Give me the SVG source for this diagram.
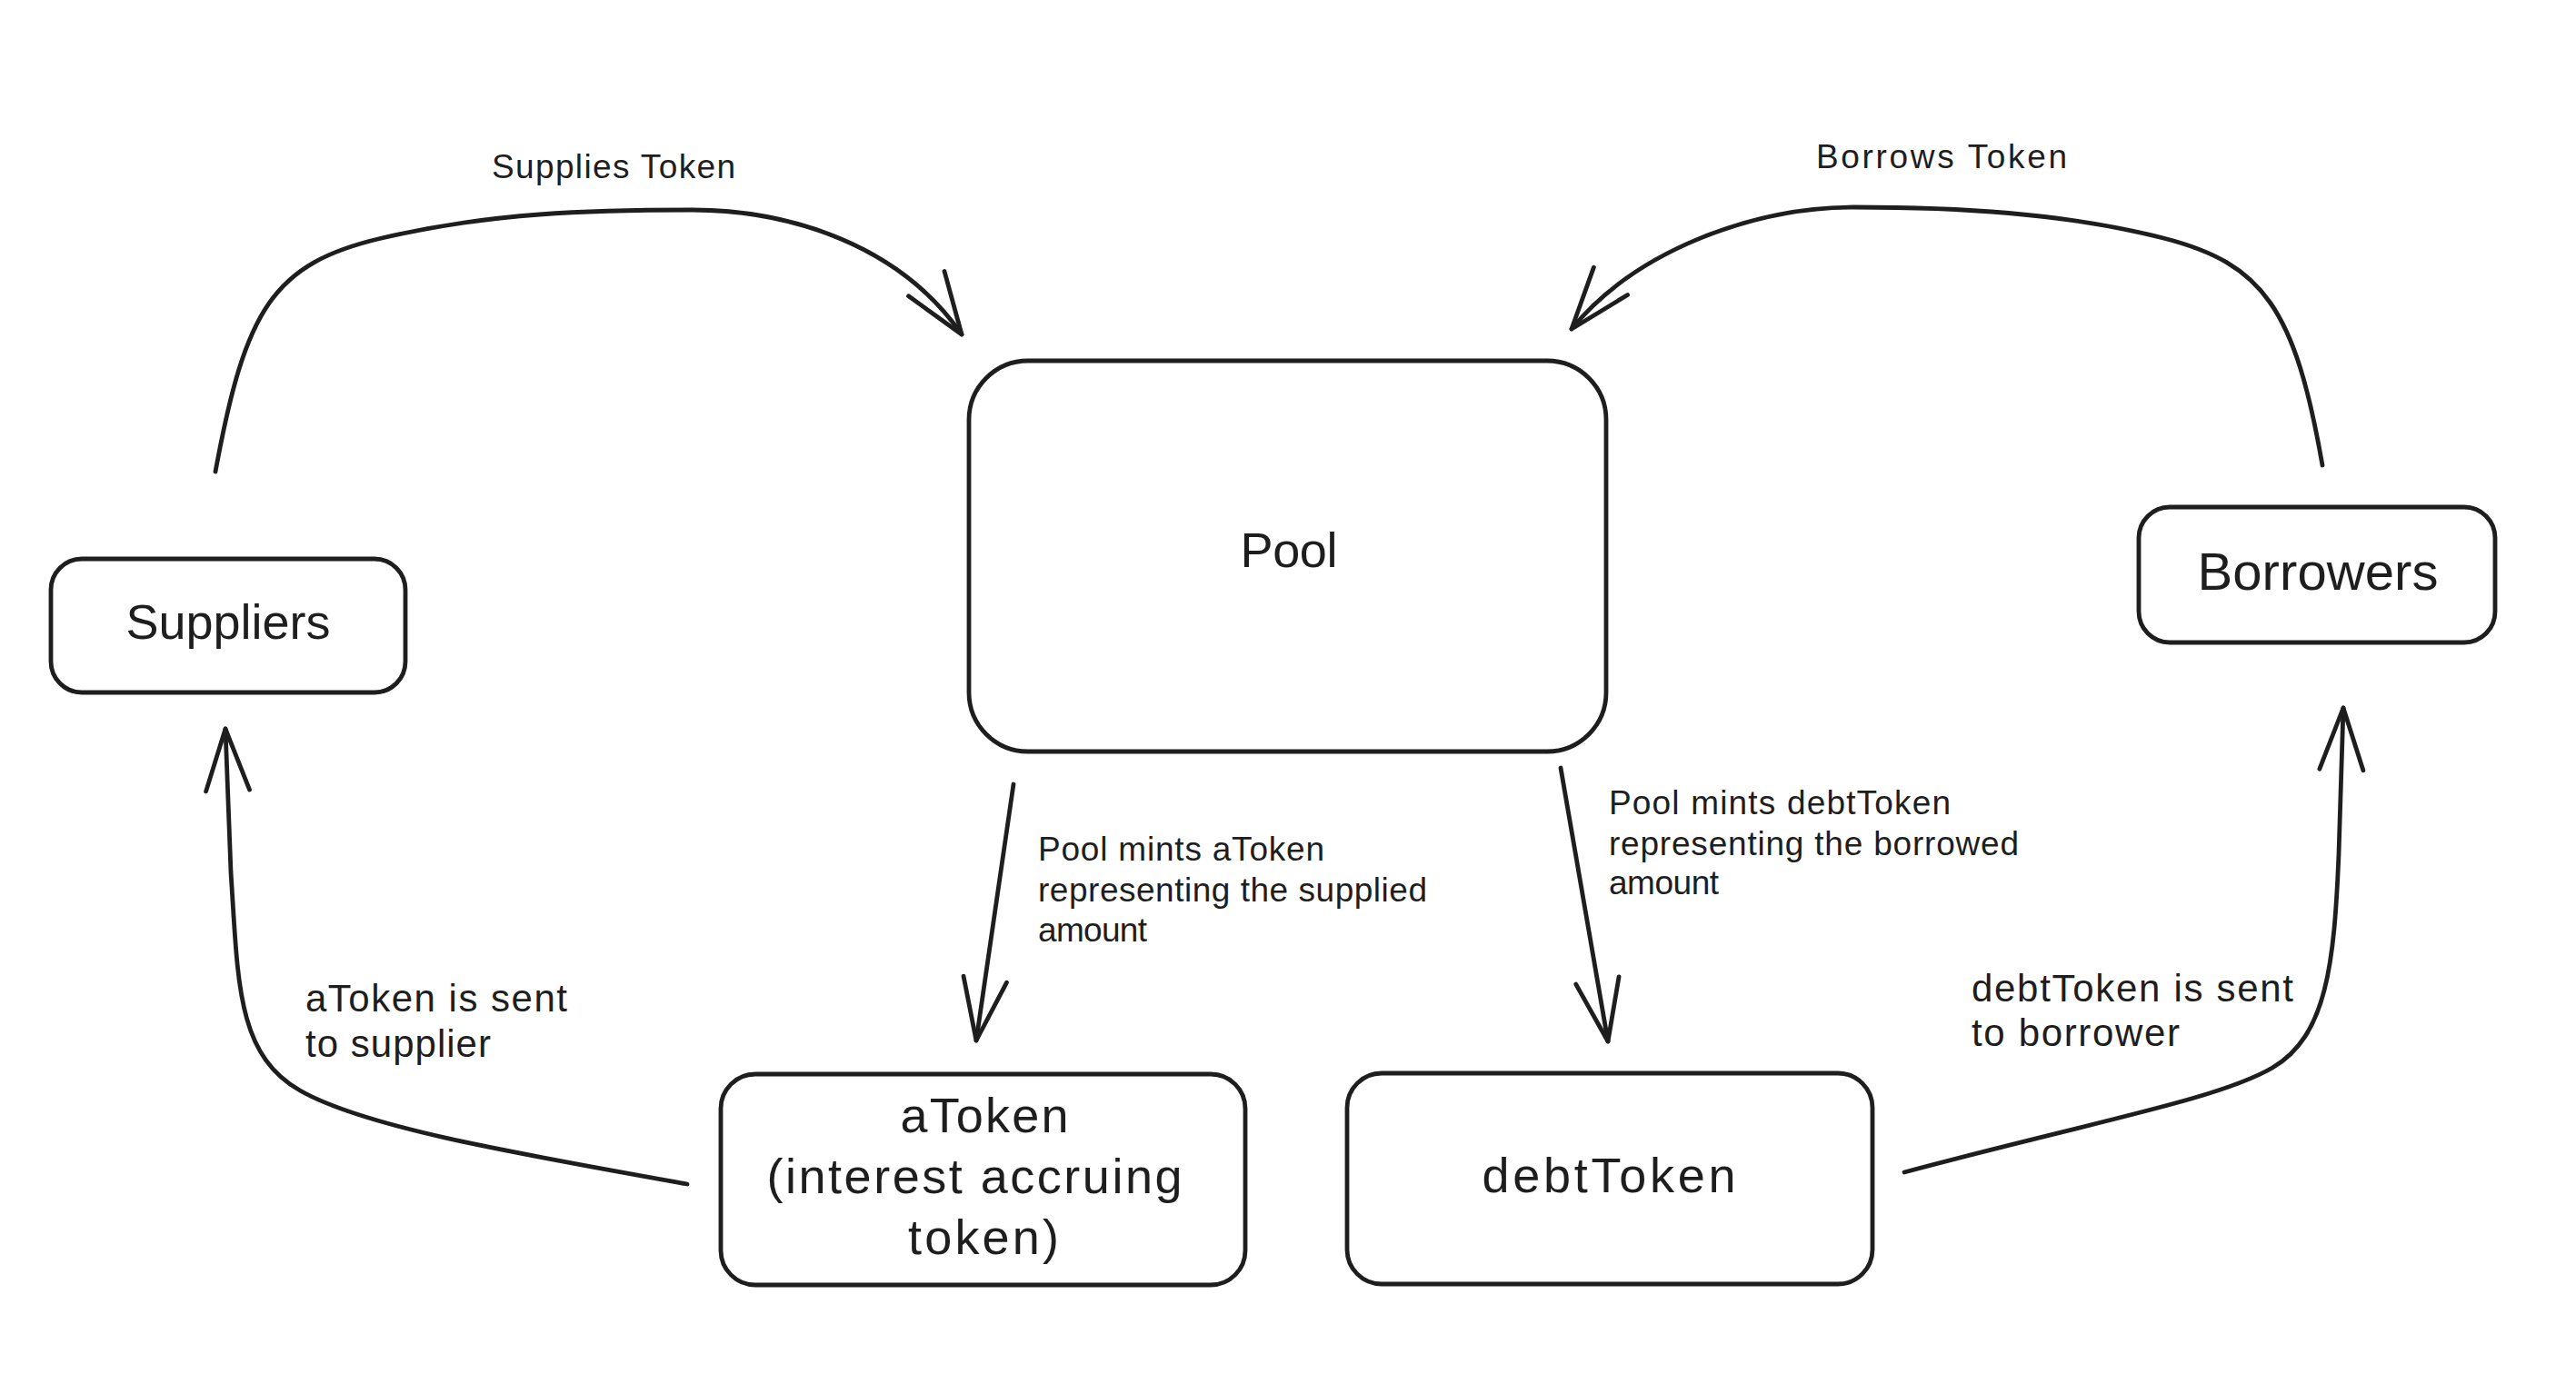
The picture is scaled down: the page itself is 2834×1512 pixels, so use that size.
<svg xmlns="http://www.w3.org/2000/svg" width="2834" height="1512" viewBox="0 0 2834 1512">
  <style>
    .box { fill: #ffffff; stroke: #1e1e1e; stroke-width: 4.8; }
    .edge { fill: none; stroke: #1e1e1e; stroke-width: 4.8; stroke-linecap: round; stroke-linejoin: round; }
    .t { font-family: "Liberation Sans", Arial, sans-serif; fill: #1e1e1e; }
    .node { font-size: 54px; text-anchor: middle; }
    .lbl { font-size: 37px; }
    .lbl2 { font-size: 42px; }
  </style>
  <defs>
    <marker id="ah" markerUnits="userSpaceOnUse" viewBox="-80 -40 90 80" refX="0" refY="0" markerWidth="90" markerHeight="80" orient="auto" overflow="visible">
      <path d="M-68,-24 L0,0 L-68,24" fill="none" stroke="#1e1e1e" stroke-width="4.8" stroke-linecap="round" stroke-linejoin="round"/>
    </marker>
  </defs>
  <rect width="2834" height="1512" fill="#ffffff"/>

  <g id="connectors">
    <g id="edge-supplies">
      <path class="edge" marker-end="url(#ah)" d="M237,519 C270,340 300,290 420,262 S650,231 760,231 S990,270 1058,368"/>
      <text class="t lbl" x="541" y="196" textLength="268">Supplies Token</text>
    </g>
    <g id="edge-borrows">
      <path class="edge" marker-end="url(#ah)" d="M2555,512 C2525,340 2490,290 2380,262 S2150,228 2040,228 S1800,275 1729,362"/>
      <text class="t lbl" x="1998" y="185" textLength="276">Borrows Token</text>
    </g>
    <g id="edge-mint-atoken">
      <path class="edge" marker-end="url(#ah)" d="M1115,863 L1074,1145"/>
      <text class="t lbl" x="1142" y="947" textLength="315">Pool mints aToken</text>
      <text class="t lbl" x="1142" y="992" textLength="428">representing the supplied</text>
      <text class="t lbl" x="1142" y="1036" textLength="120">amount</text>
    </g>
    <g id="edge-mint-debttoken">
      <path class="edge" marker-end="url(#ah)" d="M1717,845 L1769,1146"/>
      <text class="t lbl" x="1770" y="896" textLength="376">Pool mints debtToken</text>
      <text class="t lbl" x="1770" y="941" textLength="451">representing the borrowed</text>
      <text class="t lbl" x="1770" y="984" textLength="121">amount</text>
    </g>
    <g id="edge-atoken-sent">
      <path class="edge" marker-end="url(#ah)" d="M756,1303 C560,1268 400,1240 330,1200 S262,1080 254,960 L248,802"/>
      <text class="t lbl2" x="336" y="1113" textLength="288">aToken is sent</text>
      <text class="t lbl2" x="336" y="1163" textLength="204">to supplier</text>
    </g>
    <g id="edge-debttoken-sent">
      <path class="edge" marker-end="url(#ah)" d="M2095,1290 C2300,1235 2440,1210 2500,1175 S2568,1060 2573,940 L2578,779"/>
      <text class="t lbl2" x="2169" y="1102" textLength="354">debtToken is sent</text>
      <text class="t lbl2" x="2169" y="1151" textLength="229">to borrower</text>
    </g>
  </g>

  <g id="node-suppliers">
    <rect class="box" x="56" y="615" width="390" height="147" rx="34"/>
    <text class="t node" x="251" y="703" textLength="225">Suppliers</text>
  </g>
  <g id="node-pool">
    <rect class="box" x="1066" y="397" width="701" height="430" rx="65"/>
    <text class="t node" x="1418" y="624" textLength="107">Pool</text>
  </g>
  <g id="node-borrowers">
    <rect class="box" x="2353" y="558" width="392" height="149" rx="34"/>
    <text class="t node" x="2550" y="649" textLength="265" style="font-size:58px">Borrowers</text>
  </g>
  <g id="node-atoken">
    <rect class="box" x="793" y="1182" width="577" height="232" rx="38"/>
    <text class="t node" x="1083" y="1246" textLength="185">aToken</text>
    <text class="t node" x="1072" y="1313" textLength="457">(interest accruing</text>
    <text class="t node" x="1082" y="1380" textLength="166">token)</text>
  </g>
  <g id="node-debttoken">
    <rect class="box" x="1482" y="1181" width="578" height="232" rx="38"/>
    <text class="t node" x="1770" y="1312" textLength="279">debtToken</text>
  </g>
</svg>
